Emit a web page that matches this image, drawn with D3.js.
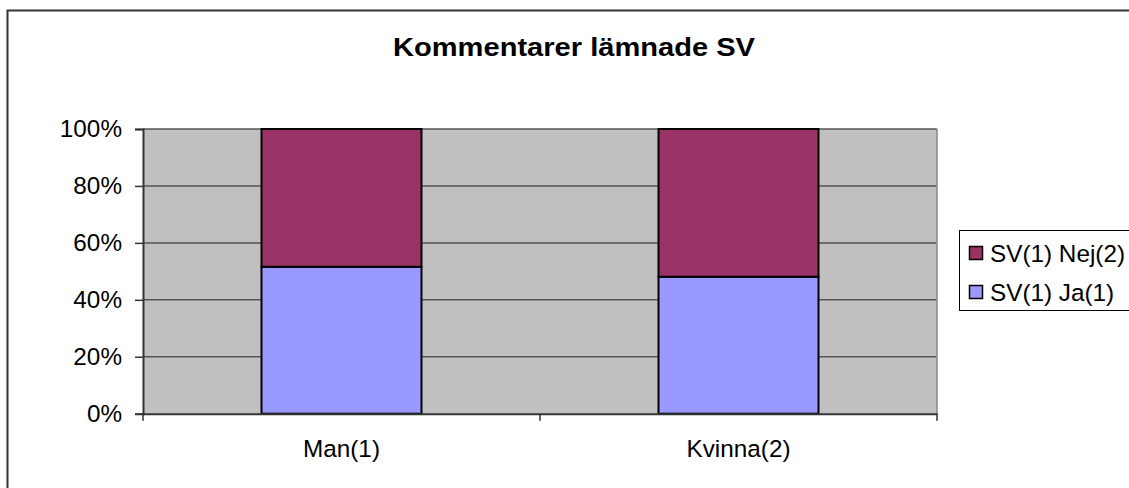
<!DOCTYPE html>
<html>
<head>
<meta charset="utf-8">
<script src="https://cdn.jsdelivr.net/npm/d3@7"></script>
<style>
  html, body { margin: 0; padding: 0; background: #fff; }
  svg text { font-family: "Liberation Sans", Arial, sans-serif; fill: #000; }
</style>
</head>
<body>
<svg id="chart" width="1129" height="488"></svg>
<script>
// Share of comments left, by gender (stacked to 100%)
const categories = ["Man(1)", "Kvinna(2)"];
const seriesNames = ["SV(1) Ja(1)", "SV(1) Nej(2)"];
const jaValues = [0.516, 0.481];
const nejValues = [0.484, 0.519];
const yTicks = [0, 0.2, 0.4, 0.6, 0.8, 1.0];
const colors = ["#9999FF", "#993366"];

const labelSize = 24.3;
const svg = d3.select("#chart");

// outer chart frame
svg.append("rect")
  .attr("x", 7.5).attr("y", 10.5)
  .attr("width", 1140).attr("height", 500)
  .attr("fill", "#fff").attr("stroke", "#333").attr("stroke-width", 2);

const plot = { left: 143, right: 937, top: 129, bottom: 413.7 };

const x = d3.scaleBand().domain(categories).range([plot.left, plot.right]).padding(0);
const y = d3.scaleLinear().domain([0, 1]).range([plot.bottom, plot.top]);

// plot background
svg.append("rect")
  .attr("x", plot.left).attr("y", plot.top)
  .attr("width", plot.right - plot.left).attr("height", plot.bottom - plot.top)
  .attr("fill", "#C0C0C0");

// horizontal gridlines
svg.append("g").selectAll("line").data(yTicks.filter(d => d > 0)).join("line")
  .attr("x1", plot.left).attr("x2", plot.right)
  .attr("y1", d => y(d)).attr("y2", d => y(d))
  .attr("stroke", "#555").attr("stroke-width", 1.5);

// plot area right border
svg.append("line")
  .attr("x1", plot.right).attr("x2", plot.right)
  .attr("y1", plot.top).attr("y2", plot.bottom)
  .attr("stroke", "#888").attr("stroke-width", 1.5);

// stacked bars
const stackData = categories.map((c, i) => ({ cat: c, ja: jaValues[i], nej: nejValues[i] }));
const stacked = d3.stack().keys(["ja", "nej"])(stackData);
const barW = x.bandwidth() * 0.403;

svg.append("g").selectAll("g").data(stacked).join("g")
  .attr("fill", (d, i) => colors[i])
  .selectAll("rect").data(d => d).join("rect")
    .attr("x", d => x(d.data.cat) + (x.bandwidth() - barW) / 2)
    .attr("width", barW)
    .attr("y", d => y(d[1]))
    .attr("height", d => y(d[0]) - y(d[1]))
    .attr("stroke", "#000").attr("stroke-width", 2);

// y axis
const yAxis = d3.axisLeft(y).tickValues(yTicks).tickFormat(d3.format(".0%")).tickSize(8).tickPadding(13);
const gy = svg.append("g").attr("transform", `translate(${plot.left},0)`).call(yAxis);
gy.select(".domain").attr("stroke", "#333").attr("stroke-width", 2);
gy.selectAll(".tick line").attr("stroke", "#333").attr("stroke-width", 1.5);
gy.selectAll("text").attr("font-size", labelSize).attr("fill", "#000");

// x axis
const xAxis = d3.axisBottom(x).tickSize(0).tickPadding(26);
const gx = svg.append("g").attr("transform", `translate(0,${plot.bottom})`).call(xAxis);
gx.select(".domain").attr("stroke", "#333").attr("stroke-width", 2);
gx.selectAll("text").attr("font-size", labelSize).attr("fill", "#000");

// category boundary ticks
const boundaries = [plot.left, ...categories.map(c => x(c) + x.bandwidth())];
gx.selectAll(".bound").data(boundaries).join("line").attr("class", "bound")
  .attr("x1", d => d).attr("x2", d => d).attr("y1", 0).attr("y2", 7)
  .attr("stroke", "#333").attr("stroke-width", 1.5);

// title
svg.append("text")
  .attr("x", 574).attr("y", 56)
  .attr("text-anchor", "middle")
  .attr("font-size", 26).attr("font-weight", "bold")
  .attr("textLength", 362).attr("lengthAdjust", "spacingAndGlyphs")
  .text("Kommentarer lämnade SV");

// legend
const legend = svg.append("g");
legend.append("rect")
  .attr("x", 959.5).attr("y", 230.5).attr("width", 200).attr("height", 80)
  .attr("fill", "#fff").attr("stroke", "#000").attr("stroke-width", 1);
const legendItems = [1, 0];
legendItems.forEach((si, k) => {
  const cy = 253 + k * 39;
  legend.append("rect")
    .attr("x", 969.5).attr("y", cy - 6.5).attr("width", 13).attr("height", 13)
    .attr("fill", colors[si]).attr("stroke", "#000").attr("stroke-width", 1.5);
  legend.append("text")
    .attr("x", 990).attr("y", cy + 8.5)
    .attr("font-size", labelSize)
    .text(seriesNames[si]);
});
</script>
</body>
</html>
